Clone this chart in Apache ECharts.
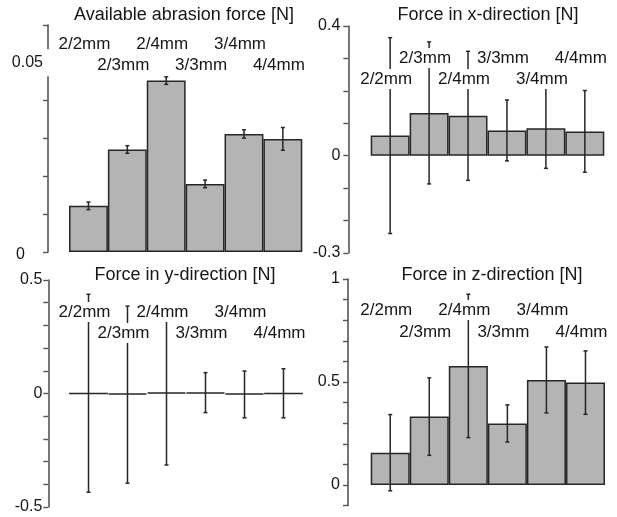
<!DOCTYPE html>
<html>
<head>
<meta charset="utf-8">
<script src="https://cdn.jsdelivr.net/npm/echarts/dist/echarts.min.js"></script>
<style>
html,body{margin:0;padding:0;background:#fff;}
#c{width:617px;height:517px;}
</style>
</head>
<body>
<div id="c"></div>
<script>
// ---------- data ----------
const categories = ['2/2mm', '2/3mm', '2/4mm', '3/3mm', '3/4mm', '4/4mm'];
const titles = ['Available abrasion force [N]', 'Force in x-direction [N]', 'Force in y-direction [N]', 'Force in z-direction [N]'];

const abrasionMean = [0.0122, 0.0271, 0.0453, 0.0180, 0.0312, 0.0299];
const abrasionSd   = [0.0010, 0.0010, 0.0010, 0.0010, 0.0011, 0.0030];

const forceXMean = [0.062, 0.132, 0.123, 0.078, 0.085, 0.075];
const forceXSd   = [0.302, 0.219, 0.199, 0.094, 0.124, 0.126];

const forceYMean = [0.001, -0.005, 0.005, 0.004, -0.004, 0.001];
const forceYSd   = [0.436, 0.390, 0.320, 0.088, 0.103, 0.108];

const forceZMean = [0.157, 0.332, 0.578, 0.299, 0.510, 0.497];
const forceZSd   = [0.185, 0.188, 0.348, 0.090, 0.160, 0.154];

const ticksAbrasion = ['0', '0.05'];
const ticksX = ['-0.3', '0', '0.4'];
const ticksY = ['-0.5', '0', '0.5'];
const ticksZ = ['0', '0.5', '1'];

// ---------- layout / style ----------
const FONT = '"Liberation Sans", Arial, Helvetica, sans-serif';
const TEXT = '#161616';
const AXIS = '#555555';
const EDGE = '#262626';
const TICK_FS = 16;

const panels = [
  { mean: abrasionMean, sd: abrasionSd, ticks: ticksAbrasion, min: 0, max: 0.06, interval: 0.01,
    grid: { left: 69, top: 25, width: 233.3, height: 227 }, axisX: 48, margin: -3, padR: 8, zeroPad: 26, masked: true,
    title: [184, 15], rowEven: 19, rowOdd: 40 },
  { mean: forceXMean, sd: forceXSd, ticks: ticksX, min: -0.3, max: 0.4, interval: 0.1,
    grid: { left: 370.7, top: 26, width: 233.6, height: 227 }, axisX: 348.3, margin: 8, padR: 0, zeroPad: 0, masked: false,
    title: [488, 15], rowEven: 53, rowOdd: 32 },
  { mean: forceYMean, sd: forceYSd, ticks: ticksY, min: -0.5, max: 0.5, interval: 0.1,
    grid: { left: 69, top: 280, width: 234, height: 227 }, axisX: 48.3, margin: 6, padR: 0, zeroPad: 0, masked: false,
    title: [185, 275], rowEven: 32, rowOdd: 53 },
  { mean: forceZMean, sd: forceZSd, ticks: ticksZ, min: -0.1, max: 1, interval: 0.1,
    grid: { left: 370.7, top: 279, width: 234.3, height: 226.6 }, axisX: 348, margin: 8, padR: 0, zeroPad: 0, masked: false,
    title: [492, 275], rowEven: 31, rowOdd: 53 }
];

const grids = [], xAxes = [], yAxes = [], series = [], graphics = [];

panels.forEach((p, k) => {
  grids.push(Object.assign({ containLabel: false }, p.grid));
  xAxes.push({
    gridIndex: k, type: 'category', data: categories, boundaryGap: true,
    axisLine: { show: false }, axisTick: { show: false }, axisLabel: { show: false }, splitLine: { show: false }
  });
  yAxes.push({
    gridIndex: k, type: 'value', min: p.min, max: p.max, interval: p.interval,
    offset: p.grid.left - p.axisX,
    axisLine: { show: true, onZero: false, lineStyle: { color: AXIS, width: 1.6 } },
    axisTick: { show: true, length: 5, lineStyle: { color: AXIS, width: 1.4 } },
    splitLine: { show: false },
    axisLabel: {
      show: true, margin: p.margin, fontSize: TICK_FS, fontFamily: FONT, color: TEXT,
      formatter: function (v) {
        const hit = p.ticks.find(t => Math.abs(parseFloat(t) - v) < 1e-9);
        if (hit === undefined) return '';
        if (hit === '0' && p.zeroPad) return '{z|0}';
        if (p.masked) return '{m|' + hit + '}';
        return hit;
      },
      rich: {
        z: { fontSize: TICK_FS, fontFamily: FONT, color: TEXT, padding: [6, p.zeroPad, 0, 0] },
        m: { fontSize: TICK_FS, fontFamily: FONT, color: TEXT, backgroundColor: '#ffffff', padding: [5, p.padR, 6, 0] }
      }
    }
  });
  series.push({
    type: 'bar', xAxisIndex: k, yAxisIndex: k, z: 2,
    barCategoryGap: '0%', barGap: '0%',
    data: p.mean,
    itemStyle: { color: '#b4b4b4', borderColor: EDGE, borderWidth: 1.5 },
    emphasis: { disabled: true }, silent: true
  });
  series.push({
    type: 'custom', xAxisIndex: k, yAxisIndex: k, z: 3, silent: true,
    data: p.mean.map((m, i) => [i, m - p.sd[i], m + p.sd[i]]),
    encode: { x: 0, y: [1, 2] },
    renderItem: function (params, api) {
      const i = api.value(0);
      const a = api.coord([i, api.value(2)]);
      const b = api.coord([i, api.value(1)]);
      const st = { stroke: EDGE, lineWidth: 1.5 };
      return { type: 'group', children: [
        { type: 'line', shape: { x1: a[0], y1: a[1], x2: b[0], y2: b[1] }, style: st },
        { type: 'line', shape: { x1: a[0] - 2, y1: a[1], x2: a[0] + 2, y2: a[1] }, style: st },
        { type: 'line', shape: { x1: b[0] - 2, y1: b[1], x2: b[0] + 2, y2: b[1] }, style: st }
      ] };
    }
  });
  series.push({
    type: 'custom', xAxisIndex: k, yAxisIndex: k, z: 5, silent: true,
    data: categories.map((c, i) => [i, p.max]),
    encode: { x: 0, y: 1 },
    renderItem: function (params, api) {
      const i = api.value(0);
      const x = api.coord([i, p.max])[0] - 4;
      const y = params.coordSys.y + (i % 2 === 0 ? p.rowEven : p.rowOdd);
      return {
        type: 'text', x: x, y: y, z2: 10,
        style: {
          text: categories[i], font: '17px ' + FONT, fill: TEXT,
          align: 'center', verticalAlign: 'middle',
          backgroundColor: '#ffffff', padding: [2, 1, 1, 1]
        }
      };
    }
  });
  graphics.push({
    type: 'text', x: p.title[0], y: p.title[1], z: 10,
    style: { text: titles[k], font: '18px ' + FONT, fill: TEXT, align: 'center', verticalAlign: 'middle' }
  });
});

const chart = echarts.init(document.getElementById('c'), null, { renderer: 'canvas' });
chart.setOption({
  animation: false,
  backgroundColor: '#ffffff',
  grid: grids, xAxis: xAxes, yAxis: yAxes, series: series, graphic: graphics
});
</script>
</body>
</html>
